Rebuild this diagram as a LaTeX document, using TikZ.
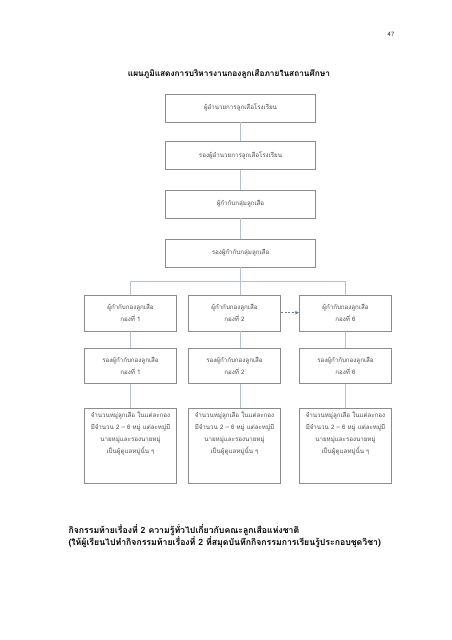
\documentclass[tikz,border=0pt]{standalone}
\usepackage{fontspec}
\newfontfamily\thaifont[Script=Thai]{Loma}
\usetikzlibrary{arrows.meta}
\definecolor{boxline}{HTML}{8C8C8C}
\definecolor{conline}{HTML}{B4C3D3}
\definecolor{arrowc}{HTML}{5A7BB0}
\tikzset{
  orgbox/.style={draw=boxline, line width=0.6pt, rectangle, inner sep=0pt, font=\thaifont\fontsize{6.2}{11.5}\selectfont, text=black!70, align=center},
  conn/.style={draw=conline, line width=0.9pt},
}
\begin{document}
\begin{tikzpicture}[x=1pt,y=-1pt]
\useasboundingbox[fill=white] (0,0) rectangle (452,640);
\node[font=\thaifont\fontsize{6}{7}\selectfont, text=black!80] (pg) at (391,34) {47};
\node[font=\thaifont\bfseries\fontsize{8.3}{10}\selectfont] (title) at (229,74) {แผนภูมิแสดงการบริหารงานกองลูกเสือภายในสถานศึกษา};

\node[orgbox, minimum width=150, minimum height=28] (b1) at (240.5,108) {ผู้อำนวยการลูกเสือโรงเรียน};
\node[orgbox, minimum width=150, minimum height=28] (b2) at (240.5,155.5) {รองผู้อำนวยการลูกเสือโรงเรียน};
\node[orgbox, minimum width=150, minimum height=28] (b3) at (240.5,204) {ผู้กำกับกลุ่มลูกเสือ};
\node[orgbox, minimum width=150, minimum height=28] (b4) at (240.5,253) {รองผู้กำกับกลุ่มลูกเสือ};

\node[orgbox, minimum width=92.4, minimum height=36] (a1) at (130.5,313) {ผู้กำกับกองลูกเสือ\\กองที่ 1};
\node[orgbox, minimum width=92.4, minimum height=36] (m1) at (234.5,313) {ผู้กำกับกองลูกเสือ\\กองที่ 2};
\node[orgbox, minimum width=92.4, minimum height=36] (c1) at (345.5,313) {ผู้กำกับกองลูกเสือ\\กองที่ 6};

\node[orgbox, minimum width=92.4, minimum height=35] (a2) at (130.5,366) {รองผู้กำกับกองลูกเสือ\\กองที่ 1};
\node[orgbox, minimum width=92.4, minimum height=35] (m2) at (234.5,366) {รองผู้กำกับกองลูกเสือ\\กองที่ 2};
\node[orgbox, minimum width=92.4, minimum height=35] (c2) at (345.5,366) {รองผู้กำกับกองลูกเสือ\\กองที่ 6};

\foreach \n/\xx in {a3/130.5, m3/234.5, c3/345.5}{
  \node[orgbox, minimum width=92.4, minimum height=75] (\n) at (\xx,446) {};
  \node[font=\thaifont\fontsize{6.2}{12}\selectfont, text=black!70, align=center, anchor=north, inner sep=0pt] (\n t) at ([yshift=-4]\n.north) {จำนวนหมู่ลูกเสือ ในแต่ละกอง\\มีจำนวน 2 – 6 หมู่ แต่ละหมู่มี\\นายหมู่และรองนายหมู่\\เป็นผู้ดูแลหมู่นั้น ๆ};
}

% connectors
\draw[conn] (b1) -- (b2);
\draw[conn] (b2) -- (b3);
\draw[conn] (b3) -- (b4);
\coordinate (hl) at (130.5,281);
\coordinate (hr) at (345.5,281);
\draw[conn] (b4.south) -- (b4.south |- m1.north);
\draw[conn] (a1.north) -- (hl) -- (hr) -- (c1.north);
\draw[conn] (b4.south |- m1.south) -- (b4.south |- m2.north);
\draw[conn] (b4.south |- m2.south) -- (b4.south |- m3.north);
\draw[conn] (a1) -- (a2);
\draw[conn] (a2) -- (a3);
\draw[conn] (c1) -- (c2);
\draw[conn] (c2) -- (c3);
\draw[arrowc, line width=0.6pt, dash pattern=on 2pt off 1.5pt, -{Stealth[length=4pt,width=3.5pt]}] (m1.east |- 0,312.7) -- (c1.west |- 0,312.7);

\node[font=\thaifont\bfseries\fontsize{8.7}{12}\selectfont, anchor=west, align=left] (foot) at (65,536.5) {กิจกรรมท้ายเรื่องที่ 2 ความรู้ทั่วไปเกี่ยวกับคณะลูกเสือแห่งชาติ\\(ให้ผู้เรียนไปทำกิจกรรมท้ายเรื่องที่ 2 ที่สมุดบันทึกกิจกรรมการเรียนรู้ประกอบชุดวิชา)};
\end{tikzpicture}
\end{document}
